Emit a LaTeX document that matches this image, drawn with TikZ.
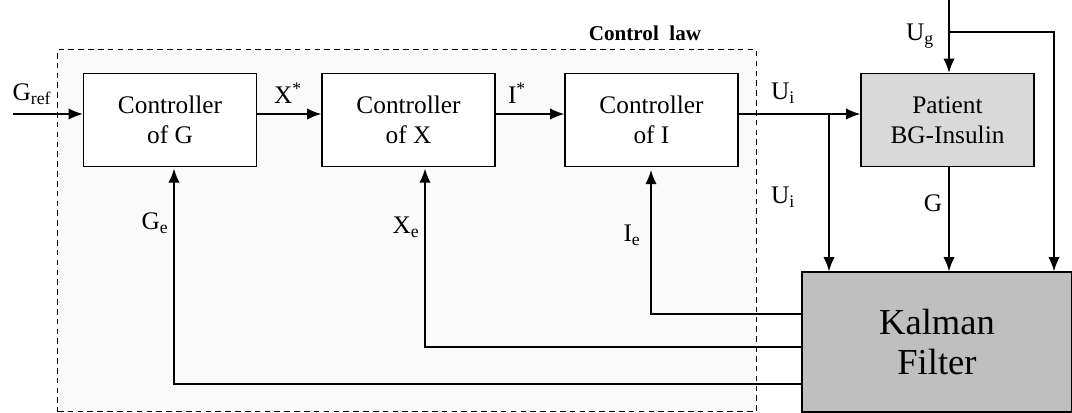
\documentclass[tikz,border=0pt]{standalone}
\usepackage{fontspec}
\setmainfont{Liberation Serif}
\usetikzlibrary{arrows.meta,positioning,calc}
\definecolor{lawgray}{RGB}{250,250,250}
\definecolor{patgray}{RGB}{217,217,217}
\definecolor{kalgray}{RGB}{191,191,191}
\tikzset{
  blk/.style={draw,align=center,inner sep=2pt,line width=1pt,
              minimum width=4.325cm,minimum height=2.325cm},
  ctl/.style={blk,fill=white},
  pat/.style={blk,fill=patgray},
  kal/.style={blk,fill=kalgray,minimum width=6.75cm,minimum height=3.5cm,
              font=\fontsize{26}{28}\selectfont},
  law/.style={draw,dash pattern=on 4pt off 3pt,fill=lawgray,line width=0.8pt},
  arr/.style={-{Latex[length=10pt,width=8pt]},line width=1pt},
  lbl/.style={inner sep=1pt},
}

\begin{document}
\begin{tikzpicture}[x=0.025cm,y=-0.025cm,font=\fontsize{18}{21}\selectfont]
\useasboundingbox (0,0) rectangle (1072,413);
\node[law,minimum width=17.45cm,minimum height=9.05cm] (law) at (407,230.5) {};
\node[lbl,font=\fontsize{15}{17}\selectfont\bfseries] (lawlbl) at (645,33) {Control\ \ law};
\node[ctl] (cG) at (170,120) {Controller\\of G};
\node[ctl] (cX) at (408.5,120) {Controller\\of X};
\node[ctl] (cI) at (651.5,120) {Controller\\of I};
\node[pat] (pt) at (947.5,120) {Patient\\BG-Insulin};
\node[kal] (kf) at (937,342) {Kalman\\Filter};
% signal path
\coordinate (gin) at (13,114);
\coordinate (ui) at (829,114);
\coordinate (ugtop) at (949,0);
\coordinate (ugr) at (1054,32);
\draw[arr] (gin) -- (gin -| cG.west);
\draw[arr] (cG.east |- gin) -- (cX.west |- gin);
\draw[arr] (cX.east |- gin) -- (cI.west |- gin);
\draw[arr] (cI.east |- gin) -- (pt.west |- gin);
\draw[arr] (ui) -- (ui |- kf.north);
\draw[arr] (ugtop) -- (ugtop |- pt.north);
\draw[arr] (ugtop |- ugr) -- (ugr) -- (ugr |- kf.north);
\draw[arr] (ugtop |- pt.south) -- (ugtop |- kf.north);
% feedback from the filter
\coordinate (ie) at (651,314);
\coordinate (xe) at (425,347);
\coordinate (ge) at (174,384);
\draw[arr,shorten >=2pt] (kf.west |- ie) -- (ie) -- (ie |- cI.south);
\draw[arr,shorten >=1pt] (kf.west |- xe) -- (xe) -- (xe |- cX.south);
\draw[arr,shorten >=1pt] (kf.west |- ge) -- (ge) -- (ge |- cG.south);
% labels
\node[lbl] (lgref) at (32,94) {G\textsubscript{ref}};
\node[lbl] (lxs) at (288,93) {X\textsuperscript{*}};
\node[lbl] (lis) at (517,93) {I\textsuperscript{*}};
\node[lbl] (lui) at (783,93) {U\textsubscript{i}};
\node[lbl] (lui2) at (783,197) {U\textsubscript{i}};
\node[lbl] (lg) at (933,203) {G};
\node[lbl] (lug) at (920,36) {U\textsubscript{g}};
\node[lbl] (lge) at (155,223) {G\textsubscript{e}};
\node[lbl] (lxe) at (406,227) {X\textsubscript{e}};
\node[lbl] (lie) at (632,235) {I\textsubscript{e}};
\end{tikzpicture}
\end{document}
